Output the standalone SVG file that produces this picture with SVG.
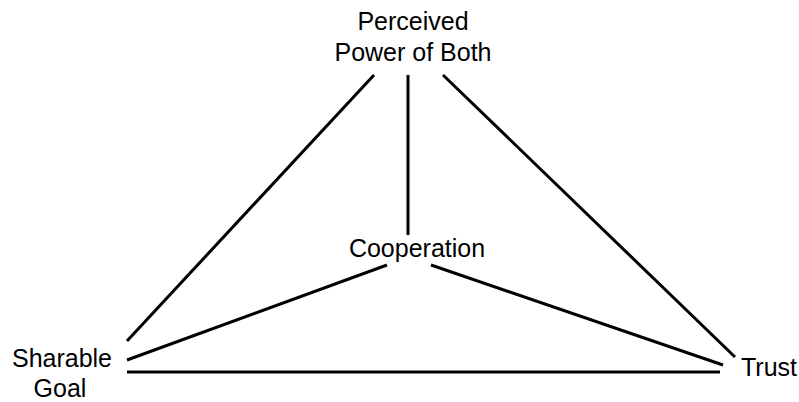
<svg xmlns="http://www.w3.org/2000/svg" width="799" height="402" viewBox="0 0 799 402">
<style>
.l{stroke:#000;stroke-width:3;fill:none}
.t{font-family:"Liberation Sans",Arial,sans-serif;font-size:25px;fill:#000;text-anchor:middle}
</style>
<rect width="799" height="402" fill="#fff"/>
<g id="connectors">
<line class="l" x1="374" y1="75" x2="127" y2="341"/>
<line class="l" x1="408" y1="75" x2="408" y2="235"/>
<line class="l" x1="443" y1="75" x2="735" y2="357"/>
<line class="l" x1="387" y1="265" x2="127" y2="360"/>
<line class="l" x1="431" y1="265" x2="723" y2="365"/>
<line class="l" x1="127" y1="372" x2="720" y2="372"/>
</g>
<g id="power"><text class="t" x="413" y="30">Perceived</text><text class="t" x="413" y="61">Power of Both</text></g>
<g id="cooperation"><text class="t" x="417" y="257">Cooperation</text></g>
<g id="goal"><text class="t" x="62" y="367">Sharable</text><text class="t" x="60" y="397">Goal</text></g>
<g id="trust"><text class="t" x="769" y="376">Trust</text></g>
</svg>
